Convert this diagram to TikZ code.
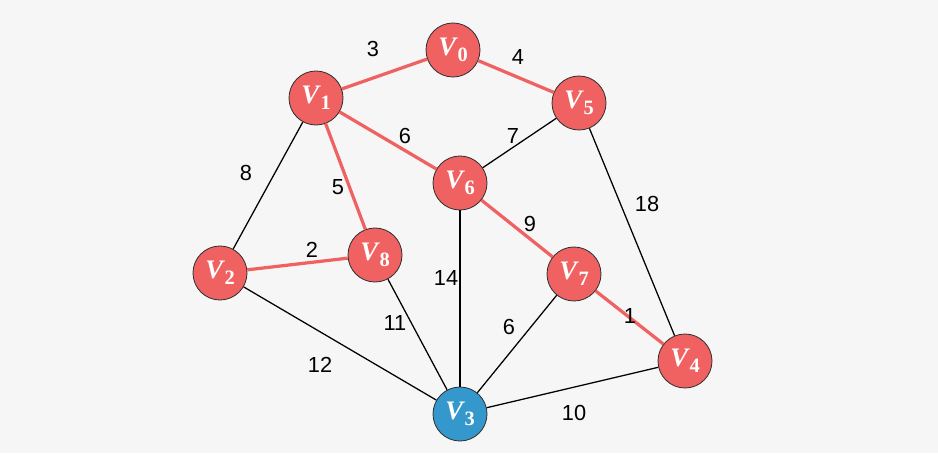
\documentclass[tikz,border=0pt]{standalone}
\usepackage{fontspec}
\setmainfont{Liberation Sans}
\newfontfamily\vfont{Liberation Serif}
\usetikzlibrary{positioning}
\definecolor{vred}{RGB}{240,98,98}
\definecolor{vblue}{RGB}{52,152,204}
\definecolor{bgray}{RGB}{246,246,246}
\newcommand\vlab[1]{{\vfont\bfseries\itshape V\kern1pt\raisebox{-0.45ex}{\upshape\fontsize{14.5}{14}\selectfont #1}}}

\begin{document}
\begin{tikzpicture}[x=0.025cm,y=-0.025cm,
  font=\fontsize{15.5}{18}\selectfont,
  vert/.style={circle,draw=black!80,line width=0.6pt,minimum size=1.35cm,inner sep=0pt,
    text=white,font=\fontsize{19}{20}\selectfont},
  hot/.style={vert,fill=vred},
  cold/.style={vert,fill=vblue},
  tree/.style={draw=vred,line width=2.3pt},
  plain/.style={draw=black,line width=0.9pt},
  wt/.style={inner sep=1pt}]
  \fill[bgray] (0,0) rectangle (938,453);
  \useasboundingbox (0,0) rectangle (938,453);
  % --- vrcholy ---
  \node[hot] (v0) at (453,50) {\vlab{0}};
  \node[hot] (v1) at (316,98) {\vlab{1}};
  \node[hot] (v5) at (579,103) {\vlab{5}};
  \node[hot] (v6) at (460,183) {\vlab{6}};
  \node[hot] (v2) at (220,273) {\vlab{2}};
  \node[hot] (v8) at (375,255) {\vlab{8}};
  \node[hot] (v7) at (574,274) {\vlab{7}};
  \node[hot] (v4) at (685,361) {\vlab{4}};
  \node[cold] (v3) at (460,414) {\vlab{3}};
  % --- hrany ---
  \draw[plain] (v1) -- (v2);
  \draw[plain] (v5) -- (v6);
  \draw[plain] (v5) -- (v4);
  \draw[plain] (v6) -- (v3);
  \draw[plain] (v8) -- (v3);
  \draw[plain] (v2) -- (v3);
  \draw[plain] (v7) -- (v3);
  \draw[plain] (v3) -- (v4);
  \draw[tree] (v0) -- (v1);
  \draw[tree] (v0) -- (v5);
  \draw[tree] (v1) -- (v6);
  \draw[tree] (v1) -- (v8);
  \draw[tree] (v2) -- (v8);
  \draw[tree] (v6) -- (v7);
  \draw[tree] (v7) -- (v4);
  % --- vahy ---
  \node[wt] (w01) at (373,49) {3};
  \node[wt] (w05) at (518,57) {4};
  \node[wt] (w16) at (405,136) {6};
  \node[wt] (w56) at (513,136) {7};
  \node[wt] (w12) at (246,173) {8};
  \node[wt] (w18) at (338,187) {5};
  \node[wt] (w54) at (647,204) {18};
  \node[wt] (w67) at (530,224) {9};
  \node[wt] (w28) at (312,250) {2};
  \node[wt] (w63) at (446,278) {14};
  \node[wt] (w83) at (395,323) {11};
  \node[wt] (w73) at (509,327) {6};
  \node[wt] (w74) at (630,316) {1};
  \node[wt] (w23) at (320,365) {12};
  \node[wt] (w34) at (574,413) {10};
\end{tikzpicture}
\end{document}
